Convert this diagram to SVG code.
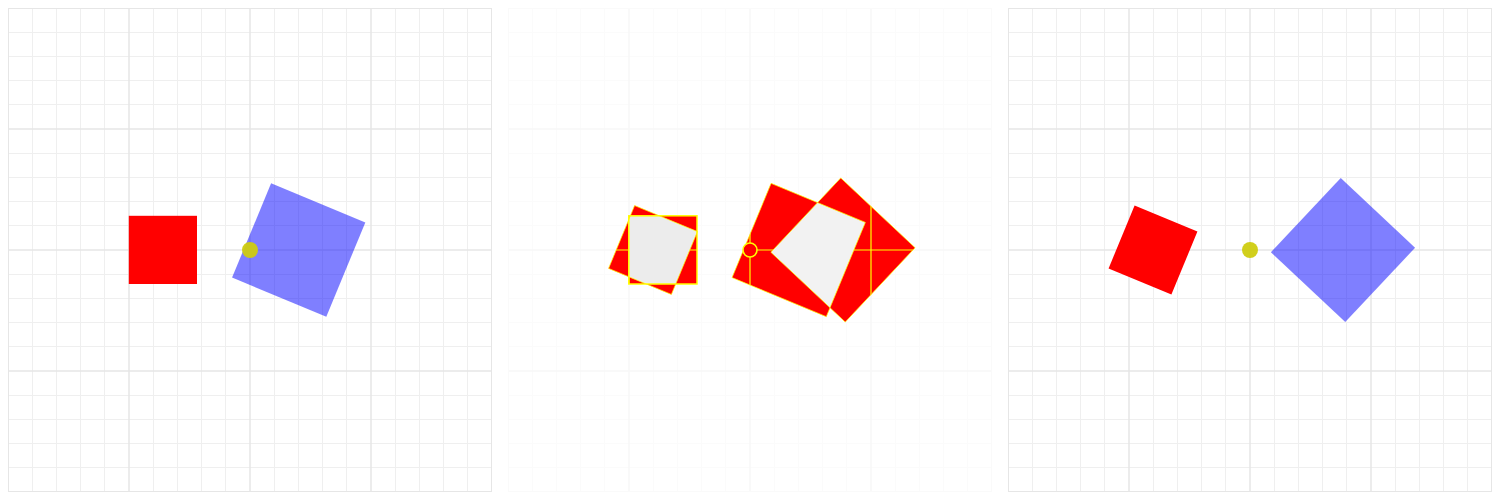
<svg xmlns="http://www.w3.org/2000/svg" width="1500" height="500" viewBox="0 0 1500 500">
  <style>
    .minor { fill: none; stroke-width: 1; }
    .major { fill: none; stroke-width: 1.5; }
    .red { fill: #ff0000; }
    .blue { fill: #0000ff; fill-opacity: 0.5; }
    .ylw { fill: none; stroke: #ffff00; }
  </style>
  <defs>
    <path id="gridMinor" d="M32.5 8V492M56.5 8V492M80.5 8V492M104.5 8V492M153.5 8V492M177.5 8V492M201.5 8V492M225.5 8V492M274.5 8V492M298.5 8V492M322.5 8V492M346.5 8V492M395.5 8V492M419.5 8V492M443.5 8V492M467.5 8V492M8 32.5H492M8 56.5H492M8 80.5H492M8 104.5H492M8 153.5H492M8 177.5H492M8 201.5H492M8 225.5H492M8 274.5H492M8 298.5H492M8 322.5H492M8 346.5H492M8 395.5H492M8 419.5H492M8 443.5H492M8 467.5H492"/>
    <path id="gridMajor" d="M129 8V492M250 8V492M371 8V492M8 129H492M8 250H492M8 371H492"/>
    <rect id="border" x="8.5" y="8.5" width="483" height="483"/>
    <clipPath id="clipRotL">
      <rect x="-34" y="-34" width="68" height="68" transform="translate(653 250) rotate(22.5)"/>
    </clipPath>
    <clipPath id="clipDiamond">
      <rect x="-51" y="-51" width="102" height="102" transform="translate(843 250) rotate(43.2)"/>
    </clipPath>
    <clipPath id="clipUnion">
      <rect x="628.8" y="215.8" width="68.2" height="68.2"/>
      <rect x="-34" y="-34" width="68" height="68" transform="translate(653 250) rotate(22.5)"/>
      <rect x="-51" y="-51" width="102" height="102" transform="translate(798.7 250) rotate(22.5)"/>
      <rect x="-51" y="-51" width="102" height="102" transform="translate(843 250) rotate(43.2)"/>
    </clipPath>
  </defs>

  <rect width="1500" height="500" fill="#ffffff"/>

  <!-- Panel 1 -->
  <g id="panel-left">
    <g id="grid-left">
      <use href="#gridMinor" class="minor" stroke="#efefef"/>
      <use href="#gridMajor" class="major" stroke="#e6e6e6"/>
      <use href="#border" fill="none" stroke="#e6e6e6"/>
    </g>
    <g id="red-square-left"><rect class="red" x="128.8" y="215.8" width="68.2" height="68.2"/></g>
    <g id="blue-square-left"><rect class="blue" x="-51" y="-51" width="102" height="102" transform="translate(298.7 250) rotate(22.5)"/></g>
    <g id="dot-left"><circle cx="250" cy="250" r="8" fill="#cfcc10" fill-opacity="0.95"/></g>
  </g>

  <!-- Panel 2 (difference) -->
  <g id="panel-middle">
    <g id="grid-middle" transform="translate(500 0)">
      <use href="#gridMinor" class="minor" stroke="#fbfbfb"/>
      <use href="#gridMajor" class="major" stroke="#f8f8f8"/>
      <use href="#border" fill="none" stroke="#fafafa"/>
    </g>
    <g id="diff-left">
      <rect class="red" x="628.8" y="215.8" width="68.2" height="68.2"/>
      <rect class="red" x="-34" y="-34" width="68" height="68" transform="translate(653 250) rotate(22.5)"/>
    </g>
    <g id="diff-right">
      <rect class="red" x="-51" y="-51" width="102" height="102" transform="translate(798.7 250) rotate(22.5)"/>
      <rect class="red" x="-51" y="-51" width="102" height="102" transform="translate(843 250) rotate(43.2)"/>
    </g>
    <g id="diff-gridlines" clip-path="url(#clipUnion)">
      <path class="ylw" stroke-width="1.2" d="M508 250H992M750 8V492M871 8V492M629 8V492"/>
    </g>
    <g id="diff-overlap">
      <g clip-path="url(#clipRotL)">
        <rect x="628.8" y="215.8" width="68.2" height="68.2" fill="#ececec"/>
      </g>
      <g clip-path="url(#clipDiamond)">
        <rect x="-51" y="-51" width="102" height="102" fill="#f2f2f2" transform="translate(798.7 250) rotate(22.5)"/>
      </g>
    </g>
    <g id="diff-edges">
      <rect class="ylw" stroke-width="1.5" x="628.8" y="215.8" width="68.2" height="68.2"/>
      <rect class="ylw" stroke-width="0.8" stroke-opacity="0.8" x="-34" y="-34" width="68" height="68" transform="translate(653 250) rotate(22.5)"/>
      <rect class="ylw" stroke-width="0.8" stroke-opacity="0.8" x="-51" y="-51" width="102" height="102" transform="translate(798.7 250) rotate(22.5)"/>
      <rect class="ylw" stroke-width="0.8" stroke-opacity="0.8" x="-51" y="-51" width="102" height="102" transform="translate(843 250) rotate(43.2)"/>
    </g>
    <g id="diff-dot">
      <circle cx="750" cy="250" r="7" fill="#ff0000" stroke="#ffff00" stroke-width="1.6"/>
    </g>
  </g>

  <!-- Panel 3 -->
  <g id="panel-right">
    <g id="grid-right" transform="translate(1000 0)">
      <use href="#gridMinor" class="minor" stroke="#efefef"/>
      <use href="#gridMajor" class="major" stroke="#e6e6e6"/>
      <use href="#border" fill="none" stroke="#e6e6e6"/>
    </g>
    <g id="red-square-right"><rect class="red" x="-34" y="-34" width="68" height="68" transform="translate(1153 250) rotate(22.5)"/></g>
    <g id="blue-diamond-right"><rect class="blue" x="-51" y="-51" width="102" height="102" transform="translate(1343 250) rotate(43.2)"/></g>
    <g id="dot-right"><circle cx="1250" cy="250" r="8" fill="#cfcc10" fill-opacity="0.95"/></g>
  </g>
</svg>
